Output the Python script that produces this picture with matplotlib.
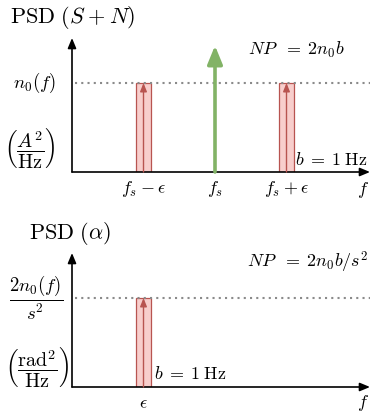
import matplotlib
matplotlib.use("Agg")
import matplotlib.pyplot as plt
from matplotlib.patches import Rectangle

plt.rcParams['mathtext.fontset'] = 'cm'
plt.rcParams['font.family'] = ['DejaVu Serif']

# ---- data ----
eps = 1.0
fs = 2.0
n0 = 1.0
bandwidth = 0.2
signal_amp = 1.42
top_noise_pos = [fs - eps, fs + eps]
top_ticks = [fs - eps, fs, fs + eps]
top_tick_labels = [r'$f_s\:{-}\:\epsilon$', r'$f_s$', r'$f_s\:{+}\:\epsilon$']
bot_noise_pos = [eps]
bot_ticks = [eps]
bot_tick_labels = [r'$\epsilon$']

RED_FILL = '#f8cecc'
RED_EDGE = '#b85450'
GREEN = '#82b366'
GRAY = '#8a8a8a'

W, H = 370, 417
fig = plt.figure(figsize=(W / 100, H / 100), dpi=100)

XMAX = 298 / 71.5
YMAX = 134 / 89.0
FS_MAIN = 13
FS_LAB = 13.5
FS_UNIT = 14.5
FS_TITLE = 16


def px_axes(x0, ybase, ytop):
    return fig.add_axes([x0 / W, (H - ybase) / H, (W - x0) / W, (ybase - ytop) / H])


def setup(ax):
    ax.set_xlim(0, XMAX)
    ax.set_ylim(0, YMAX)
    for s in ax.spines.values():
        s.set_visible(False)
    ax.set_yticks([])
    ax.patch.set_alpha(0)
    ax.annotate('', xy=(XMAX, 0), xytext=(0, 0), annotation_clip=False,
                arrowprops=dict(arrowstyle='-|>,head_length=0.6,head_width=0.25',
                                color='black', lw=1.2, shrinkA=0, shrinkB=0))
    ax.annotate('', xy=(0, YMAX), xytext=(0, 0), annotation_clip=False,
                arrowprops=dict(arrowstyle='-|>,head_length=0.6,head_width=0.25',
                                color='black', lw=1.2, shrinkA=0, shrinkB=0))
    ax.plot([0.04, XMAX], [n0, n0], linestyle=(0, (1, 2)), color=GRAY, lw=1.5,
            clip_on=False)
    ax.tick_params(axis='x', length=0, pad=5, labelsize=FS_MAIN)


def noise_bar(ax, x):
    ax.add_patch(Rectangle((x - bandwidth / 2, 0), bandwidth, n0,
                           facecolor=RED_FILL, edgecolor=RED_EDGE, lw=0.9))
    ax.annotate('', xy=(x, n0), xytext=(x, 0),
                arrowprops=dict(arrowstyle='-|>,head_length=0.5,head_width=0.2',
                                color=RED_EDGE, lw=1.0, shrinkA=0, shrinkB=0))


# ---- top panel ----
ax1 = px_axes(72, 172, 38)
setup(ax1)
for x in top_noise_pos:
    noise_bar(ax1, x)
ax1.annotate('', xy=(fs, signal_amp), xytext=(fs, 0),
             arrowprops=dict(arrowstyle='-|>,head_length=1.1,head_width=0.45',
                             color=GREEN, lw=2.6, shrinkA=0, shrinkB=0))
ax1.set_xticks(top_ticks, top_tick_labels)
ax1.text(4.075, -0.2, r'$f$', fontsize=FS_MAIN, ha='center', va='center')
ax1.text(-0.52, 1.0, r'$n_0(f)$', fontsize=FS_LAB, ha='center', va='center')
ax1.text(-0.59, 0.27, r'$\left(\dfrac{A^2}{\mathrm{Hz}}\right)$', fontsize=FS_UNIT,
         ha='center', va='center')
ax1.text(0.01, 1.74, r'$\mathrm{PSD}\ (S\:{+}\:N)$', fontsize=FS_TITLE, ha='center', va='center')
ax1.text(3.13, 1.37, r'$NP\;\;{=}\;2n_0b$', fontsize=FS_MAIN, ha='center', va='center')
ax1.text(3.62, 0.135, r'$b\;{=}\;1\:\mathrm{Hz}$', fontsize=FS_MAIN, ha='center', va='center')

# ---- bottom panel ----
ax2 = px_axes(72, 387, 253)
setup(ax2)
for x in bot_noise_pos:
    noise_bar(ax2, x)
ax2.set_xticks(bot_ticks, bot_tick_labels)
ax2.text(4.07, -0.18, r'$f$', fontsize=FS_MAIN, ha='center', va='center')
ax2.text(-0.5, 1.0, r'$\dfrac{2n_0(f)}{s^2}$', fontsize=FS_LAB, ha='center', va='center')
ax2.text(-0.49, 0.22, r'$\left(\dfrac{\mathrm{rad}^2}{\mathrm{Hz}}\right)$', fontsize=FS_UNIT,
         ha='center', va='center')
ax2.text(-0.03, 1.73, r'$\mathrm{PSD}\ (\alpha)$', fontsize=FS_TITLE, ha='center', va='center')
ax2.text(3.3, 1.40, r'$NP\;\;{=}\;2n_0b/s^2$', fontsize=FS_MAIN, ha='center', va='center')
ax2.text(1.65, 0.146, r'$b\;{=}\;1\:\mathrm{Hz}$', fontsize=FS_MAIN, ha='center', va='center')

fig.savefig('out.png', dpi=100)
